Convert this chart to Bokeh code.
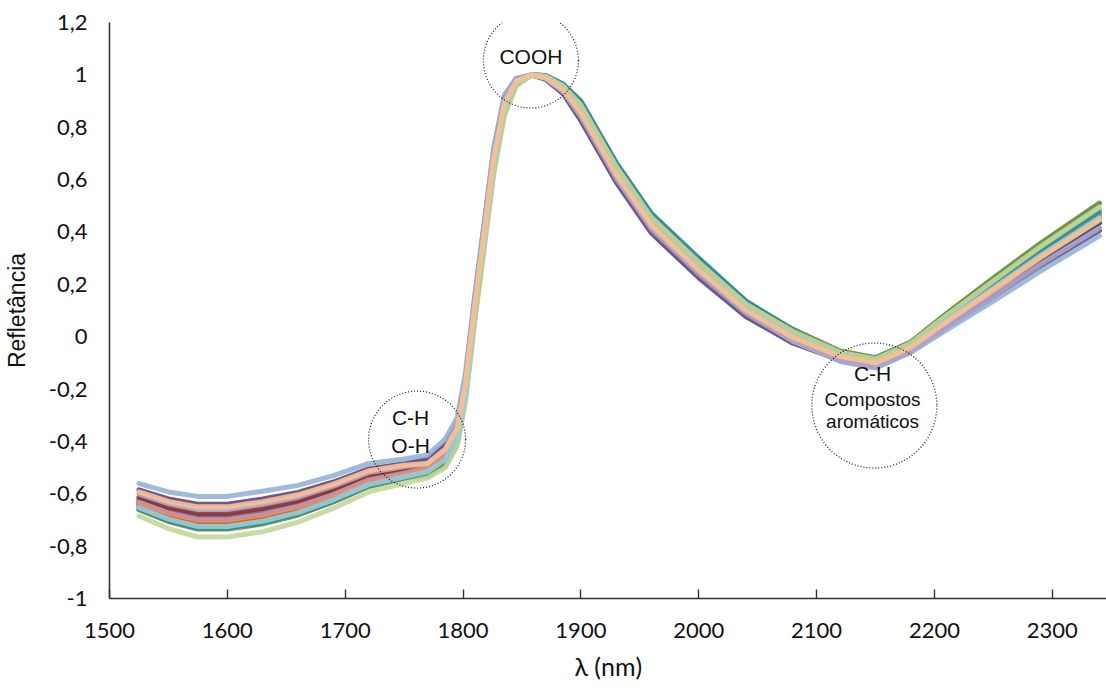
from bokeh.plotting import figure
from bokeh.models import Range1d, FixedTicker, CustomJSTickFormatter, Label
from bokeh.embed import file_html
from bokeh.resources import INLINE

# ---- data ----
wavelength = [1525, 1550, 1575, 1600, 1630, 1660, 1690, 1720, 1750, 1770, 1785, 1795, 1802,
              1810, 1818, 1826, 1835, 1845, 1858, 1870, 1885, 1900, 1930, 1960, 2000, 2040,
              2080, 2120, 2150, 2180, 2210, 2250, 2290, 2340]

s01 = [-0.625, -0.665, -0.69, -0.69, -0.67, -0.64, -0.595, -0.54, -0.515, -0.492, -0.44, -0.36, -0.19, 0.12, 0.40, 0.68, 0.89, 0.975, 1.0, 0.99, 0.945, 0.86, 0.625, 0.43, 0.26, 0.105, 0.0, -0.075, -0.10, -0.04, 0.05, 0.171, 0.293, 0.435]
s02 = [-0.633, -0.674, -0.70, -0.70, -0.68, -0.649, -0.603, -0.547, -0.521, -0.50, -0.45, -0.37, -0.20, 0.12, 0.40, 0.68, 0.89, 0.975, 1.0, 0.992, 0.95, 0.87, 0.635, 0.44, 0.27, 0.113, 0.005, -0.075, -0.10, -0.04, 0.06, 0.185, 0.31, 0.455]
s03 = [-0.629, -0.67, -0.695, -0.695, -0.675, -0.645, -0.599, -0.544, -0.518, -0.524, -0.48, -0.40, -0.23, 0.08, 0.36, 0.64, 0.858, 0.963, 1.0, 0.996, 0.96, 0.89, 0.655, 0.46, 0.29, 0.129, 0.02, -0.065, -0.09, -0.03, 0.075, 0.206, 0.336, 0.485]
s04 = [-0.621, -0.66, -0.685, -0.685, -0.665, -0.636, -0.591, -0.537, -0.512, -0.484, -0.43, -0.35, -0.18, 0.14, 0.42, 0.70, 0.906, 0.981, 1.0, 0.986, 0.935, 0.84, 0.605, 0.41, 0.24, 0.089, -0.015, -0.085, -0.11, -0.05, 0.04, 0.157, 0.276, 0.415]
s05 = [-0.649, -0.692, -0.72, -0.72, -0.70, -0.667, -0.619, -0.561, -0.533, -0.508, -0.46, -0.38, -0.21, 0.10, 0.38, 0.66, 0.874, 0.969, 1.0, 0.994, 0.955, 0.88, 0.645, 0.45, 0.28, 0.121, 0.01, -0.075, -0.10, -0.04, 0.065, 0.192, 0.319, 0.465]
s06 = [-0.641, -0.683, -0.71, -0.71, -0.69, -0.658, -0.611, -0.554, -0.527, -0.508, -0.46, -0.38, -0.21, 0.12, 0.40, 0.68, 0.89, 0.975, 1.0, 0.992, 0.95, 0.87, 0.635, 0.44, 0.27, 0.113, 0.005, -0.075, -0.10, -0.04, 0.065, 0.192, 0.319, 0.465]
s07 = [-0.637, -0.679, -0.705, -0.705, -0.685, -0.654, -0.607, -0.551, -0.524, -0.50, -0.45, -0.37, -0.20, 0.12, 0.40, 0.68, 0.89, 0.975, 1.0, 0.99, 0.945, 0.86, 0.625, 0.43, 0.26, 0.105, 0.0, -0.075, -0.10, -0.04, 0.05, 0.171, 0.293, 0.435]
s08 = [-0.613, -0.652, -0.675, -0.675, -0.655, -0.627, -0.583, -0.53, -0.506, -0.492, -0.44, -0.36, -0.19, 0.13, 0.41, 0.69, 0.898, 0.978, 1.0, 0.988, 0.94, 0.85, 0.615, 0.42, 0.25, 0.097, -0.013, -0.09, -0.115, -0.055, 0.06, 0.185, 0.31, 0.455]
s09 = [-0.661, -0.706, -0.735, -0.735, -0.715, -0.681, -0.631, -0.572, -0.542, -0.532, -0.49, -0.41, -0.24, 0.07, 0.35, 0.63, 0.85, 0.96, 1.0, 0.997, 0.963, 0.895, 0.66, 0.465, 0.295, 0.133, 0.028, -0.055, -0.08, -0.02, 0.088, 0.224, 0.357, 0.51]
s10 = [-0.585, -0.62, -0.64, -0.64, -0.62, -0.595, -0.555, -0.505, -0.485, -0.468, -0.41, -0.33, -0.16, 0.15, 0.43, 0.71, 0.914, 0.984, 1.0, 0.983, 0.928, 0.825, 0.59, 0.395, 0.225, 0.077, -0.025, -0.09, -0.115, -0.055, 0.035, 0.15, 0.268, 0.405]
s11 = [-0.657, -0.701, -0.73, -0.73, -0.71, -0.676, -0.627, -0.568, -0.539, -0.516, -0.47, -0.39, -0.22, 0.09, 0.37, 0.65, 0.866, 0.966, 1.0, 0.998, 0.965, 0.90, 0.665, 0.47, 0.30, 0.137, 0.025, -0.065, -0.09, -0.03, 0.07, 0.199, 0.327, 0.475]
s12 = [-0.645, -0.688, -0.715, -0.715, -0.695, -0.663, -0.615, -0.558, -0.53, -0.508, -0.46, -0.38, -0.21, 0.11, 0.39, 0.67, 0.882, 0.972, 1.0, 0.993, 0.953, 0.875, 0.64, 0.445, 0.275, 0.117, 0.008, -0.075, -0.10, -0.04, 0.06, 0.185, 0.31, 0.455]
s13 = [-0.561, -0.593, -0.61, -0.61, -0.59, -0.568, -0.531, -0.484, -0.467, -0.452, -0.39, -0.31, -0.14, 0.16, 0.44, 0.72, 0.922, 0.987, 1.0, 0.988, 0.94, 0.85, 0.615, 0.42, 0.25, 0.097, -0.015, -0.095, -0.12, -0.06, 0.025, 0.136, 0.25, 0.385]
s14 = [-0.633, -0.674, -0.70, -0.70, -0.68, -0.649, -0.603, -0.547, -0.521, -0.50, -0.45, -0.37, -0.20, 0.12, 0.40, 0.68, 0.89, 0.975, 1.0, 0.99, 0.945, 0.86, 0.625, 0.43, 0.26, 0.105, -0.003, -0.08, -0.105, -0.045, 0.058, 0.182, 0.306, 0.45]
s15 = [-0.685, -0.733, -0.765, -0.765, -0.745, -0.708, -0.655, -0.593, -0.56, -0.54, -0.50, -0.42, -0.25, 0.06, 0.34, 0.62, 0.842, 0.957, 1.0, 0.995, 0.958, 0.885, 0.65, 0.455, 0.285, 0.125, 0.02, -0.06, -0.085, -0.025, 0.08, 0.213, 0.344, 0.495]
s16 = [-0.601, -0.638, -0.66, -0.66, -0.64, -0.613, -0.571, -0.519, -0.497, -0.484, -0.43, -0.35, -0.18, 0.13, 0.41, 0.69, 0.898, 0.978, 1.0, 0.986, 0.935, 0.84, 0.605, 0.41, 0.24, 0.089, -0.018, -0.09, -0.115, -0.055, 0.04, 0.157, 0.276, 0.415]
s17 = [-0.653, -0.697, -0.725, -0.725, -0.705, -0.672, -0.623, -0.565, -0.536, -0.516, -0.47, -0.39, -0.22, 0.11, 0.39, 0.67, 0.882, 0.972, 1.0, 0.99, 0.945, 0.86, 0.625, 0.43, 0.26, 0.105, 0.0, -0.075, -0.10, -0.04, 0.06, 0.185, 0.31, 0.455]
s18 = [-0.593, -0.629, -0.65, -0.65, -0.63, -0.604, -0.563, -0.512, -0.491, -0.484, -0.43, -0.35, -0.18, 0.12, 0.40, 0.68, 0.89, 0.975, 1.0, 0.989, 0.943, 0.855, 0.62, 0.425, 0.255, 0.101, -0.003, -0.075, -0.10, -0.04, 0.055, 0.178, 0.302, 0.445]

series = [s01, s02, s03, s04, s05, s06, s07, s08, s09, s10, s11, s12, s13, s14, s15, s16, s17, s18]
colors = ["#4F81BD", "#C0504D", "#9BBB59", "#8064A2", "#4BACC6", "#F79646",
          "#2C4D75", "#8B3432", "#5E8A34", "#5C4680", "#2E8B9E", "#E46C0A",
          "#95B3D7", "#D99694", "#C3D69B", "#B3A2C7", "#93CDDD", "#FAC090"]

x_ticks = [1500, 1600, 1700, 1800, 1900, 2000, 2100, 2200, 2300]
y_ticks = [-1.0, -0.8, -0.6, -0.4, -0.2, 0.0, 0.2, 0.4, 0.6, 0.8, 1.0, 1.2]

# annotation circles: centre (nm, reflectance), diameter in px
circle_x = [1857.6, 1761.0, 2149.0]
circle_y = [1.055, -0.393, -0.263]
circle_d = [95, 97, 125]
# annotation texts
ann_text = ["COOH", "C-H", "O-H", "C-H", "Compostos", "aromáticos"]
ann_x = [1857.6, 1755.5, 1755.5, 2147.5, 2147.5, 2147.5]
ann_y = [1.07, -0.31, -0.415, -0.14, -0.24, -0.325]
ann_size = ["21px", "21px", "21px", "21px", "19px", "19px"]

p = figure(width=1106, height=697, output_backend="svg", toolbar_location=None,
           x_range=Range1d(1500, 2346), y_range=Range1d(-1.0, 1.2),
           min_border_left=108, min_border_right=0, min_border_top=22, min_border_bottom=99)
p.outline_line_color = None
p.xgrid.visible = False
p.ygrid.visible = False
p.background_fill_color = "white"

for s, c in zip(series, colors):
    p.line(wavelength, s, line_color=c, line_width=5, line_alpha=0.9, line_join="round", line_cap="round")

p.scatter(circle_x, circle_y, size=circle_d, marker="circle", fill_color=None,
          line_color="#222222", line_width=1.3, line_dash="1 2")

for t, x, y, fs in zip(ann_text, ann_x, ann_y, ann_size):
    p.add_layout(Label(x=x, y=y, text=t, text_align="center", text_baseline="middle",
                       text_font="Liberation Sans", text_font_size=fs, text_color="#111111"))

xa = p.xaxis[0]
xa.ticker = FixedTicker(ticks=x_ticks)
xa.minor_tick_line_color = None
xa.major_tick_in = 9
xa.major_tick_out = 0
xa.axis_line_width = 1.6
xa.major_tick_line_width = 1.4
xa.axis_line_color = "#333333"
xa.major_tick_line_color = "#333333"
xa.major_label_text_font = "Lato"
xa.major_label_text_font_size = "22px"
xa.major_label_text_color = "#111111"
xa.major_label_standoff = 24
xa.axis_label = "λ (nm)"
xa.axis_label_text_font = "Lato"
xa.axis_label_text_font_style = "normal"
xa.axis_label_text_font_size = "25px"
xa.axis_label_text_color = "#111111"
xa.axis_label_standoff = 10

ya = p.yaxis[0]
ya.ticker = FixedTicker(ticks=y_ticks)
ya.formatter = CustomJSTickFormatter(code="const v = Math.round(tick*10)/10; return v.toString().replace('.', ',');")
ya.minor_tick_line_color = None
ya.major_tick_in = 0
ya.major_tick_out = 0
ya.axis_line_width = 1.6
ya.axis_line_color = "#333333"
ya.major_label_text_font = "Lato"
ya.major_label_text_font_size = "22px"
ya.major_label_text_color = "#111111"
ya.major_label_standoff = 22
ya.axis_label = "Refletância"
ya.axis_label_text_font = "Liberation Sans"
ya.axis_label_text_font_style = "normal"
ya.axis_label_text_font_size = "23px"
ya.axis_label_text_color = "#111111"
ya.axis_label_standoff = 16

open("out.html", "w").write(file_html(p, INLINE))
